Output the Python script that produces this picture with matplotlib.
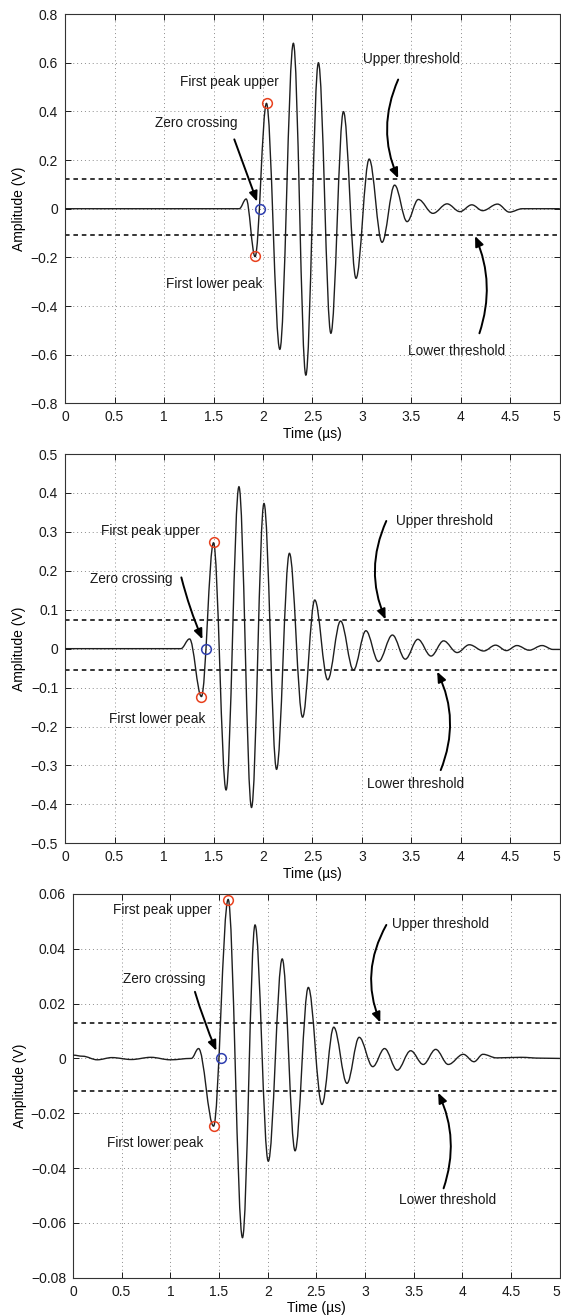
import matplotlib
matplotlib.use("Agg")
import matplotlib.pyplot as plt
from matplotlib.path import Path
from matplotlib.patches import PathPatch


plt.rcParams["font.family"] = ["Liberation Sans", "DejaVu Sans"]

# ---------- dados (extremos da forma de onda) ----------
x_ticks = [0, 0.5, 1, 1.5, 2, 2.5, 3, 3.5, 4, 4.5, 5]
x_tick_labels = ["0", "0.5", "1", "1.5", "2", "2.5", "3", "3.5", "4", "4.5", "5"]

# painel 1
p1_t = [0, 1.76, 1.83, 1.92, 2.035, 2.17, 2.307, 2.433, 2.56, 2.686, 2.813,
        2.94, 3.073, 3.203, 3.33, 3.456, 3.57, 3.717, 3.86, 3.99, 4.11, 4.22,
        4.37, 4.49, 4.62, 5.0]
p1_v = [0, 0.0, 0.04, -0.197, 0.433, -0.578, 0.68, -0.684, 0.6, -0.512, 0.399,
        -0.286, 0.204, -0.138, 0.097, -0.053, 0.038, -0.019, 0.02, -0.012, 0.016,
        -0.008, 0.019, -0.014, 0.0, 0.0]
p1_thresholds = [0.122, -0.108]
p1_lower_peak = (1.92, -0.195)
p1_zero_cross = (1.974, 0.0)
p1_upper_peak = (2.04, 0.436)
p1_yticks = [0.8, 0.6, 0.4, 0.2, 0, -0.2, -0.4, -0.6, -0.8]
p1_ytick_labels = ["0.8", "0.6", "0.4", "0.2", "0", "\u22120.2", "\u22120.4",
                   "\u22120.6", "\u22120.8"]

# painel 2
p2_t = [0, 1.17, 1.258, 1.378, 1.5, 1.627, 1.757, 1.884, 2.01, 2.137, 2.267,
        2.40, 2.523, 2.654, 2.784, 2.914, 3.04, 3.167, 3.308, 3.438, 3.565,
        3.698, 3.825, 3.962, 4.085, 4.23, 4.35, 4.46, 4.566, 4.69, 4.82, 4.93, 5.0]
p2_v = [0, 0, 0.025, -0.123, 0.272, -0.363, 0.416, -0.408, 0.373, -0.31, 0.245,
        -0.176, 0.125, -0.08, 0.071, -0.055, 0.046, -0.033, 0.035, -0.027, 0.024,
        -0.019, 0.02, -0.01, 0.01, -0.006, 0.009, -0.005, 0.008, -0.004, 0.008,
        -0.002, -0.002]
p2_thresholds = [0.074, -0.055]
p2_lower_peak = (1.378, -0.125)
p2_zero_cross = (1.425, 0.0)
p2_upper_peak = (1.5, 0.275)
p2_yticks = [0.5, 0.4, 0.3, 0.2, 0.1, 0, -0.1, -0.2, -0.3, -0.4, -0.5]
p2_ytick_labels = ["0.5", "0.4", "0.3", "0.2", "0.1", "0", "\u22120.1",
                   "\u22120.2", "\u22120.3", "\u22120.4", "\u22120.5"]

# painel 3
p3_t = [0, 0.1, 0.25, 0.4, 0.6, 0.8, 1.0, 1.216, 1.29, 1.444, 1.594, 1.741,
        1.87, 2.006, 2.149, 2.281, 2.417, 2.557, 2.678, 2.814, 2.939, 3.079,
        3.2, 3.33, 3.468, 3.597, 3.725, 3.854, 4.008, 4.118, 4.21, 4.35, 4.6,
        4.8, 5.0]
p3_v = [0.0012, 0.0008, -0.0005, 0.0003, -0.0004, 0.0004, -0.0005, 0.0, 0.0036,
        -0.0247, 0.058, -0.0654, 0.0487, -0.0375, 0.0363, -0.0337, 0.0259,
        -0.0168, 0.0114, -0.0091, 0.0077, -0.003, 0.0036, -0.0043, 0.0028,
        -0.0022, 0.0033, -0.0022, 0.0015, -0.0012, 0.0015, 0.0002, 0.0004,
        0.0001, 0.0]
p3_thresholds = [0.0131, -0.0118]
p3_lower_peak = (1.444, -0.0246)
p3_zero_cross = (1.517, 0.0)
p3_upper_peak = (1.594, 0.0578)
p3_yticks = [0.06, 0.04, 0.02, 0, -0.02, -0.04, -0.06, -0.08]
p3_ytick_labels = ["0.06", "0.04", "0.02", "0", "\u22120.02", "\u22120.04",
                   "\u22120.06", "\u22120.08"]

label_names = ["First peak upper", "Zero crossing", "First lower peak",
               "Upper threshold", "Lower threshold"]


def wave_path(t, v, k=0.36):
    # curva suave entre extremos (tangente horizontal em cada pico)
    verts = [(t[0], v[0])]
    codes = [Path.MOVETO]
    for i in range(1, len(t)):
        dt = t[i] - t[i - 1]
        verts += [(t[i - 1] + k * dt, v[i - 1]), (t[i] - k * dt, v[i]), (t[i], v[i])]
        codes += [Path.CURVE4] * 3
    return Path(verts, codes)


def arrow(ax, start, end, rad):
    ax.annotate(
        "", xy=end, xytext=start,
        arrowprops=dict(arrowstyle="-|>,head_length=0.6,head_width=0.25",
                        color="black", lw=1.4, shrinkA=0, shrinkB=0,
                        connectionstyle=f"arc3,rad={rad}"),
        zorder=5,
    )


def draw_panel(ax, t, v, thr, lower, zero, upper, yticks, ylabels, texts, arrows):
    ax.add_patch(PathPatch(wave_path(t, v), fill=False, edgecolor="#1e1e1e",
                           lw=1.0, zorder=3))
    for y in thr:
        ax.axhline(y, color="black", lw=1.1, linestyle=(0, (3, 2.5)), zorder=2)

    ax.plot(*lower, "o", ms=7, mfc="none", mec="#e8411e", mew=1.1, zorder=4)
    ax.plot(*upper, "o", ms=7, mfc="none", mec="#e8411e", mew=1.1, zorder=4)
    ax.plot(*zero, "o", ms=7, mfc="none", mec="#2f3fb0", mew=1.1, zorder=4)

    for name, (x, y) in zip(label_names, texts):
        ax.text(x, y, name, ha="center", va="center", fontsize=9.8,
                color="#1a1a1a", zorder=6)
    for start, end, rad in arrows:
        arrow(ax, start, end, rad)

    ax.set_xlim(0, 5)
    ax.set_ylim(yticks[-1], yticks[0])
    ax.set_xticks(x_ticks)
    ax.set_xticklabels(x_tick_labels)
    # o último rótulo fica encostado na borda direita
    ax.get_xticklabels()[-1].set_horizontalalignment("right")
    ax.set_yticks(yticks)
    ax.set_yticklabels(ylabels)
    ax.set_xlabel("Time (\u00b5s)", fontsize=10, labelpad=2)
    ax.set_ylabel("Amplitude (V)", fontsize=10, labelpad=3)

    ax.grid(True, color="#8c8c8c", linestyle=(0, (1, 3)), lw=0.7, zorder=1)
    ax.tick_params(direction="in", top=True, right=True, length=4, width=0.7,
                   labelsize=10, pad=5, colors="#1a1a1a")
    for s in ax.spines.values():
        s.set_color("#333333")
        s.set_linewidth(0.8)


fig = plt.figure(figsize=(5.61, 13.16), dpi=100)
ax1 = fig.add_axes([0.116, 0.6935, 0.882, 0.2958])
ax2 = fig.add_axes([0.116, 0.3592, 0.882, 0.2958])
ax3 = fig.add_axes([0.130, 0.0291, 0.868, 0.2916])

draw_panel(
    ax1, p1_t, p1_v, p1_thresholds, p1_lower_peak, p1_zero_cross, p1_upper_peak,
    p1_yticks, p1_ytick_labels,
    [(1.656, 0.519), (1.33, 0.353), (1.504, -0.311), (3.5, 0.615), (3.955, -0.584)],
    [((1.71, 0.285), (1.94, 0.029), 0.0),
     ((3.366, 0.531), (3.366, 0.125), 0.22),
     ((4.187, -0.512), (4.143, -0.112), 0.19)],
)
draw_panel(
    ax2, p2_t, p2_v, p2_thresholds, p2_lower_peak, p2_zero_cross, p2_upper_peak,
    p2_yticks, p2_ytick_labels,
    [(0.86, 0.303), (0.672, 0.18), (0.926, -0.181), (3.836, 0.329), (3.543, -0.348)],
    [((1.175, 0.183), (1.388, 0.024), 0.04),
     ((3.246, 0.328), (3.239, 0.075), 0.22),
     ((3.796, -0.312), (3.76, -0.059), 0.22)],
)
draw_panel(
    ax3, p3_t, p3_v, p3_thresholds, p3_lower_peak, p3_zero_cross, p3_upper_peak,
    p3_yticks, p3_ytick_labels,
    [(0.915, 0.0541), (0.933, 0.029), (0.849, -0.031), (3.77, 0.0489), (3.843, -0.0517)],
    [((1.253, 0.0243), (1.473, 0.0028), 0.03),
     ((3.218, 0.0487), (3.156, 0.0131), 0.24),
     ((3.806, -0.0474), (3.75, -0.0125), 0.2)],
)

fig.savefig("out.png", dpi=100)
